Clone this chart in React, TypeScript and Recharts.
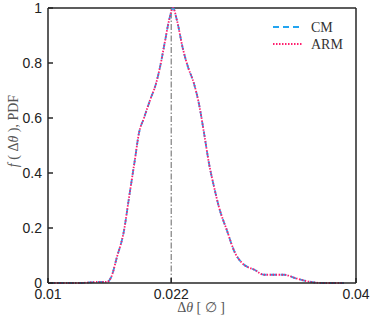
import { LineChart, Line, XAxis, YAxis, ReferenceLine, Legend } from 'recharts';

// delta theta values (x) and the normalised PDF of both methods
const dTheta = [
  0.01, 0.013, 0.01497, 0.01575, 0.01614, 0.01672, 0.0174, 0.01789, 0.01847, 0.01886,
  0.01935, 0.01994, 0.02052, 0.02091, 0.0214, 0.02179, 0.02218, 0.02256, 0.02315,
  0.02364, 0.02422, 0.02471, 0.0252, 0.02568, 0.02617, 0.02666, 0.02744, 0.02821,
  0.0289, 0.03016, 0.03104, 0.03201, 0.03299, 0.03416, 0.03542, 0.03688, 0.03883,
];
const cmPdf = [
  0, 0, 0.004, 0.004, 0.02, 0.095, 0.19, 0.31, 0.45, 0.545, 0.6, 0.665, 0.725, 0.785,
  0.88, 0.955, 1.0, 0.955, 0.85, 0.785, 0.725, 0.65, 0.545, 0.435, 0.35, 0.275, 0.19,
  0.11, 0.073, 0.047, 0.03, 0.03, 0.03, 0.017, 0.005, 0, 0,
];
const armPdf = [
  0, 0, 0.004, 0.004, 0.02, 0.095, 0.19, 0.31, 0.45, 0.545, 0.6, 0.665, 0.725, 0.785,
  0.88, 0.955, 1.0, 0.955, 0.85, 0.785, 0.725, 0.65, 0.545, 0.435, 0.35, 0.275, 0.19,
  0.11, 0.073, 0.047, 0.03, 0.03, 0.03, 0.017, 0.005, 0, 0,
];
const xTicks = [0.01, 0.022, 0.04];
const yTicks = [0, 0.2, 0.4, 0.6, 0.8, 1];
const meanTheta = 0.022;

const data = dTheta.map((x, i) => ({ x, cm: cmPdf[i], arm: armPdf[i] }));

const CM_COLOR = '#22a4f0';
const ARM_COLOR = '#ff1f6e';
const AXIS_COLOR = '#262626';
const tickStyle = { fontFamily: '"Liberation Sans", Arial, sans-serif', fontSize: 14, fill: '#222' };
const serif = '"Liberation Serif", "DejaVu Serif", serif';

function formatX(v: number) {
  return String(v);
}

function formatY(v: number) {
  return v === 0 || v === 1 ? String(v) : v.toFixed(1);
}

function LegendBox() {
  return (
    <svg width={100} height={40}>
      <line x1={3} y1={9} x2={33} y2={9} stroke={CM_COLOR} strokeWidth={2} strokeDasharray="6 4" />
      <text x={41} y={14} fontFamily={serif} fontSize={14} fill="#333">CM</text>
      <line x1={3} y1={26} x2={33} y2={26} stroke={ARM_COLOR} strokeWidth={2} strokeDasharray="1.5 1.5" />
      <text x={41} y={31} fontFamily={serif} fontSize={14} fill="#333">ARM</text>
    </svg>
  );
}

function AxisLabels() {
  return (
    <g fontFamily={serif} fontSize={14} fill="#555">
      <text transform="translate(18,131) rotate(-90)" textAnchor="middle">
        <tspan fontStyle="italic">f</tspan>
        <tspan> ( Δ</tspan>
        <tspan fontStyle="italic">θ</tspan>
        <tspan> ), PDF</tspan>
      </text>
      <text x={201} y={312} textAnchor="middle">
        <tspan>Δ</tspan>
        <tspan fontStyle="italic">θ</tspan>
        <tspan> [ ∅ ]</tspan>
      </text>
    </g>
  );
}

export default function App() {
  return (
    <div style={{ position: 'fixed', left: 0, top: 0, background: '#fff' }}>
      <LineChart width={374} height={324} data={data} margin={{ top: 8, right: 0, left: 0, bottom: 0 }}>
        <XAxis
          dataKey="x"
          type="number"
          domain={[0.01, 0.04]}
          ticks={xTicks}
          tickFormatter={formatX}
          height={41}
          tickSize={-5}
          tickMargin={11}
          tick={tickStyle}
          stroke={AXIS_COLOR}
          strokeWidth={1.5}
          allowDataOverflow
        />
        <YAxis
          yAxisId="left"
          type="number"
          domain={[0, 1]}
          ticks={yTicks}
          tickFormatter={formatY}
          width={48}
          tickSize={-5}
          tickMargin={11}
          tick={tickStyle}
          stroke={AXIS_COLOR}
          strokeWidth={1.5}
        />
        <YAxis
          yAxisId="right"
          orientation="right"
          type="number"
          domain={[0, 1]}
          ticks={yTicks}
          tickFormatter={() => ''}
          width={18}
          tickSize={-5}
          stroke={AXIS_COLOR}
          strokeWidth={1.5}
        />
        <ReferenceLine yAxisId="left" y={1} stroke={AXIS_COLOR} strokeWidth={1.5} />
        <ReferenceLine
          yAxisId="left"
          x={meanTheta}
          stroke="#666"
          strokeWidth={1}
          strokeDasharray="6 2 1.5 2"
        />
        <Line
          yAxisId="left"
          dataKey="cm"
          name="CM"
          type="monotone"
          stroke={CM_COLOR}
          strokeWidth={1.8}
          strokeDasharray="6 4"
          dot={false}
          isAnimationActive={false}
        />
        <Line
          yAxisId="left"
          dataKey="arm"
          name="ARM"
          type="monotone"
          stroke={ARM_COLOR}
          strokeWidth={1.8}
          strokeDasharray="1.5 1.5"
          dot={false}
          isAnimationActive={false}
        />
        <Legend
          layout="vertical"
          align="center"
          verticalAlign="middle"
          content={() => <LegendBox />}
          wrapperStyle={{ top: 18, left: 270, width: 100, height: 40 }}
        />
        <AxisLabels />
      </LineChart>
    </div>
  );
}
